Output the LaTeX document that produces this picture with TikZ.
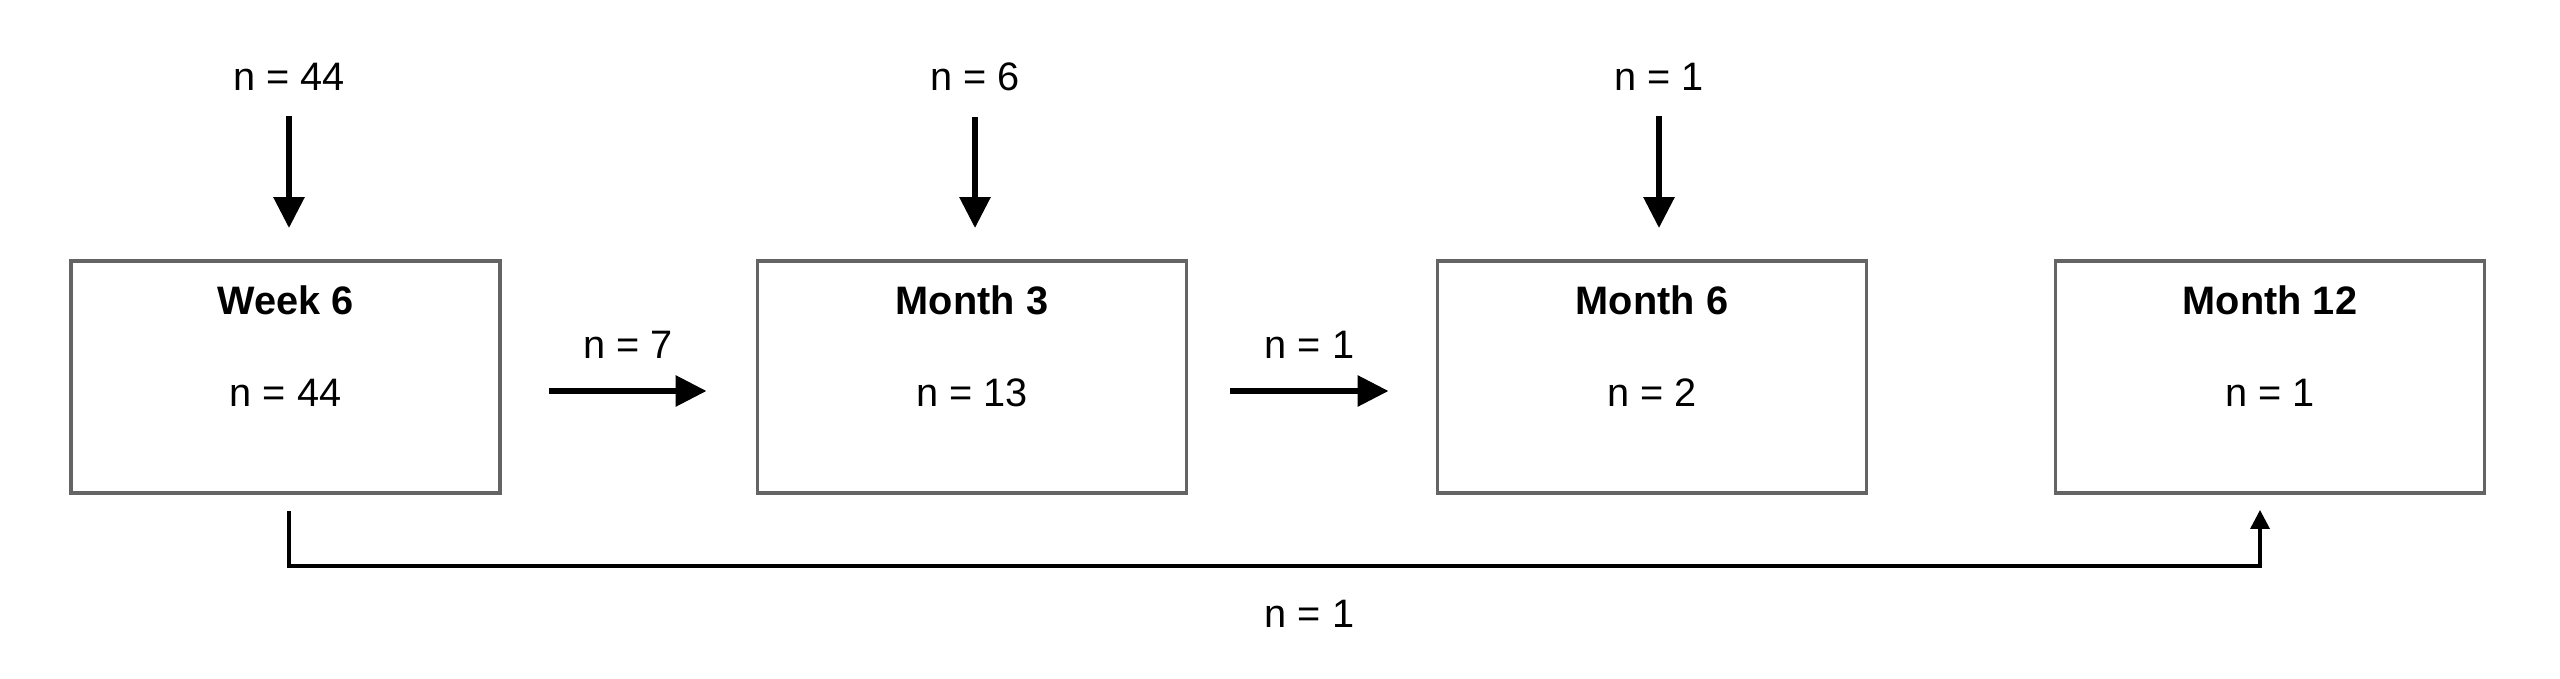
\documentclass[tikz,border=0pt]{standalone}
\usepackage{fontspec}
\setmainfont{Liberation Sans}
\usepackage{tikz}
\usetikzlibrary{arrows.meta, positioning, calc}
\definecolor{boxgray}{RGB}{100, 100, 100}
\definecolor{inkblack}{RGB}{0, 0, 0}

\begin{document}
\begin{tikzpicture}[
    font=\fontsize{11.3}{13}\selectfont,
    stage/.style={draw=boxgray, line width=1.1pt, minimum width=4.29cm, minimum height=2.32cm, inner sep=0pt},
    count/.style={inner sep=0pt},
    stagetitle/.style={inner sep=0pt, font=\fontsize{11.3}{13}\selectfont\bfseries},
    flow/.style={-{Triangle[length=0.31cm, width=0.30cm]}, line width=1.7pt, inkblack},
    skip/.style={-{Triangle[length=0.19cm, width=0.19cm]}, line width=0.95pt, inkblack}
]
    \useasboundingbox (0,0) rectangle (25.6,-6.79);

    % Follow-up boxes
    \foreach \name/\x/\title/\n in {week6/2.855/Week 6/44, month3/9.72/Month 3/13,
                                    month6/16.52/Month 6/2, month12/22.70/Month 12/1} {
        \node[stage] (\name) at (\x, -3.77) {};
        \node[stagetitle] (\name-title) at ([yshift=-0.41cm]\name.north) {\title};
        \node[count] (\name-n) at ([yshift=-0.16cm]\name.center) {n = \n};
    }

    % New entries from the top
    \node[count] (in-week6) at (2.89, -0.77) {n = 44};
    \node[count] (in-month3) at (9.75, -0.77) {n = 6};
    \node[count] (in-month6) at (16.59, -0.77) {n = 1};
    \foreach \name in {week6, month3, month6} {
        \draw[flow] ([yshift=-0.25cm]in-\name.south) -- ([yshift=0.31cm]in-\name.south |- \name.north);
    }

    % Transfers between boxes
    \draw[flow] ([xshift=0.47cm, yshift=-0.14cm]week6.east)
        -- node[count, above=0.3cm] (move-week6) {n = 7} ([xshift=-0.49cm, yshift=-0.14cm]month3.west);
    \draw[flow] ([xshift=0.42cm, yshift=-0.14cm]month3.east)
        -- node[count, above=0.3cm] (move-month3) {n = 1} ([xshift=-0.47cm, yshift=-0.14cm]month6.west);

    % Week 6 straight to month 12
    \coordinate (skip-end) at ([xshift=-0.1cm, yshift=-0.15cm]month12.south);
    \draw[skip] ([xshift=0.035cm, yshift=-0.16cm]week6.south) -- ++(0, -0.55) coordinate (skip-low)
        -- node[count, below=0.33cm, xshift=0.35cm] (skip-n) {n = 1} (skip-low -| skip-end) -- (skip-end);
\end{tikzpicture}
\end{document}
